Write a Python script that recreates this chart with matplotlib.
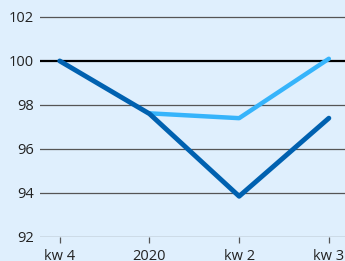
import matplotlib.pyplot as plt

# data
periods = ['kw 4', '2020', 'kw 2', 'kw 3']
dark_vals = [100.0, 97.6, 93.85, 97.4]
light_x = [1, 2, 3]
light_vals = [97.62, 97.4, 100.1]
yticks = [92, 94, 96, 98, 100, 102]

bg = '#dfeffd'
plt.rcParams['font.family'] = ['Open Sans', 'DejaVu Sans']

fig = plt.figure(figsize=(3.45, 2.61), dpi=100, facecolor=bg)
ax = fig.add_axes([40 / 345, 24 / 261, 305 / 345, 237 / 261], facecolor=bg)

x = range(len(periods))
for y in yticks:
    if y == 100:
        ax.axhline(y, color='black', lw=1.6, zorder=1)
    else:
        ax.axhline(y, color='#555555', lw=0.9, zorder=1)

ax.plot(light_x, light_vals, color='#36b4fb', lw=3.2, zorder=2, solid_capstyle='round')
ax.plot(x, dark_vals, color='#0061b0', lw=3.5, zorder=3, solid_capstyle='round')

ax.set_ylim(92, 102.77)
ax.set_xlim(-0.22, 3.18)
ax.set_yticks(yticks)
ax.set_xticks(list(x))
ax.set_xticklabels(periods)
for s in ax.spines.values():
    s.set_visible(False)
ax.tick_params(axis='y', length=0, pad=4.5, labelsize=10.5, labelcolor='#222222')
ax.tick_params(axis='x', length=4, width=0.9, color='#555555', pad=4.5,
               labelsize=10.5, labelcolor='#222222')

fig.savefig('out.png', dpi=100, facecolor=bg)
